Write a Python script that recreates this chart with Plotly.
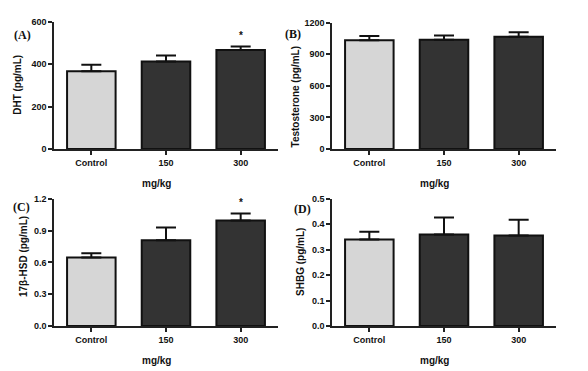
import plotly.graph_objects as go

groups = ["Control", "150", "300"]
bar_colors = ["#d6d6d6", "#333333", "#333333"]

dht = [366, 412, 466]
dht_err = [31, 28, 16]
testo = [1031, 1037, 1065]
testo_err = [40, 40, 43]
hsd = [0.646, 0.808, 0.995]
hsd_err = [0.040, 0.120, 0.064]
shbg = [0.340, 0.359, 0.355]
shbg_err = [0.030, 0.067, 0.062]

panels = [
    dict(vals=dht, err=dht_err, ytitle="DHT (pg/mL)", label="(A)", rng=[0, 600], dtick=200, fmt="", star=True),
    dict(vals=testo, err=testo_err, ytitle="Testosterone (pg/mL)", label="(B)", rng=[0, 1200], dtick=300, fmt="", star=False),
    dict(vals=hsd, err=hsd_err, ytitle="17β-HSD (pg/mL)", label="(C)", rng=[0, 1.2], dtick=0.3, fmt=".1f", star=True),
    dict(vals=shbg, err=shbg_err, ytitle="SHBG (pg/mL)", label="(D)", rng=[0, 0.5], dtick=0.1, fmt=".1f", star=False),
]

W, H = 588, 371
# pixel boxes: (left, right, top, bottom)
boxes = [(54, 278, 17, 148), (332, 556, 18, 148), (54, 278, 199, 330), (332, 556, 199, 330)]
labels_pos = [(22, 31), (293, 30), (21, 208), (302, 210)]
ytitle_pos = [(18, 82), (295, 94), (23, 259), (301, 264)]

fig = go.Figure()
font_fam = "Liberation Sans, Arial, sans-serif"
ann = []
for i, (p, b) in enumerate(zip(panels, boxes)):
    n = i + 1
    xa = "x" if n == 1 else f"x{n}"
    ya = "y" if n == 1 else f"y{n}"
    fig.add_trace(go.Bar(
        x=groups, y=p["vals"], xaxis=xa, yaxis=ya,
        marker=dict(color=bar_colors, line=dict(color="#111111", width=2)),
        width=0.65,
        error_y=dict(type="data", array=p["err"], arrayminus=[0, 0, 0], symmetric=False,
                     color="#111111", thickness=2, width=10),
        showlegend=False, hoverinfo="skip",
    ))
    l, r, t, bt = b
    xd = [l / W, r / W]
    yd = [1 - bt / H, 1 - t / H]
    axcommon = dict(showline=True, linecolor="#222222", linewidth=1.5, ticks="outside",
                    ticklen=4, tickwidth=1.5, tickcolor="#222222", showgrid=False, zeroline=False,
                    tickfont=dict(family=font_fam, size=9, color="#111111", weight="bold"))
    fig.update_layout(**{
        ("xaxis" if n == 1 else f"xaxis{n}"): dict(domain=xd, anchor=ya, range=[-0.5, 2.5],
                                                   type="category", **axcommon),
        ("yaxis" if n == 1 else f"yaxis{n}"): dict(domain=yd, anchor=xa, range=p["rng"],
                                                   dtick=p["dtick"], tick0=0, tickformat=p["fmt"],
                                                   **axcommon),
    })
    common = dict(xref="paper", yref="paper", showarrow=False, xanchor="center", yanchor="middle")
    lx, ly = labels_pos[i]
    ann.append(dict(text=f"<b>{p['label']}</b>", x=lx / W, y=1 - ly / H,
                    font=dict(family="Liberation Serif, Times New Roman, serif", size=12, color="#111111"), **common))
    tx, ty = ytitle_pos[i]
    ann.append(dict(text=f"<b>{p['ytitle']}</b>", x=tx / W, y=1 - ty / H,
                    textangle=-90, font=dict(family=font_fam, size=10, color="#111111"), **common))
    ann.append(dict(text="<b>mg/kg</b>", x=((l + r) / 2 - 10) / W, y=1 - (bt + 35) / H,
                    font=dict(family=font_fam, size=10, color="#111111"), **common))
    if p["star"]:
        ann.append(dict(text="<b>*</b>", x=2, y=p["vals"][2] + p["err"][2], xref=xa, yref=ya,
                        showarrow=False, xanchor="center", yanchor="bottom", yshift=4,
                        font=dict(family=font_fam, size=10, color="#111111")))

fig.update_layout(width=W, height=H, margin=dict(l=0, r=0, t=0, b=0),
                  plot_bgcolor="white", paper_bgcolor="white", annotations=ann)
fig.write_html("out.html")
